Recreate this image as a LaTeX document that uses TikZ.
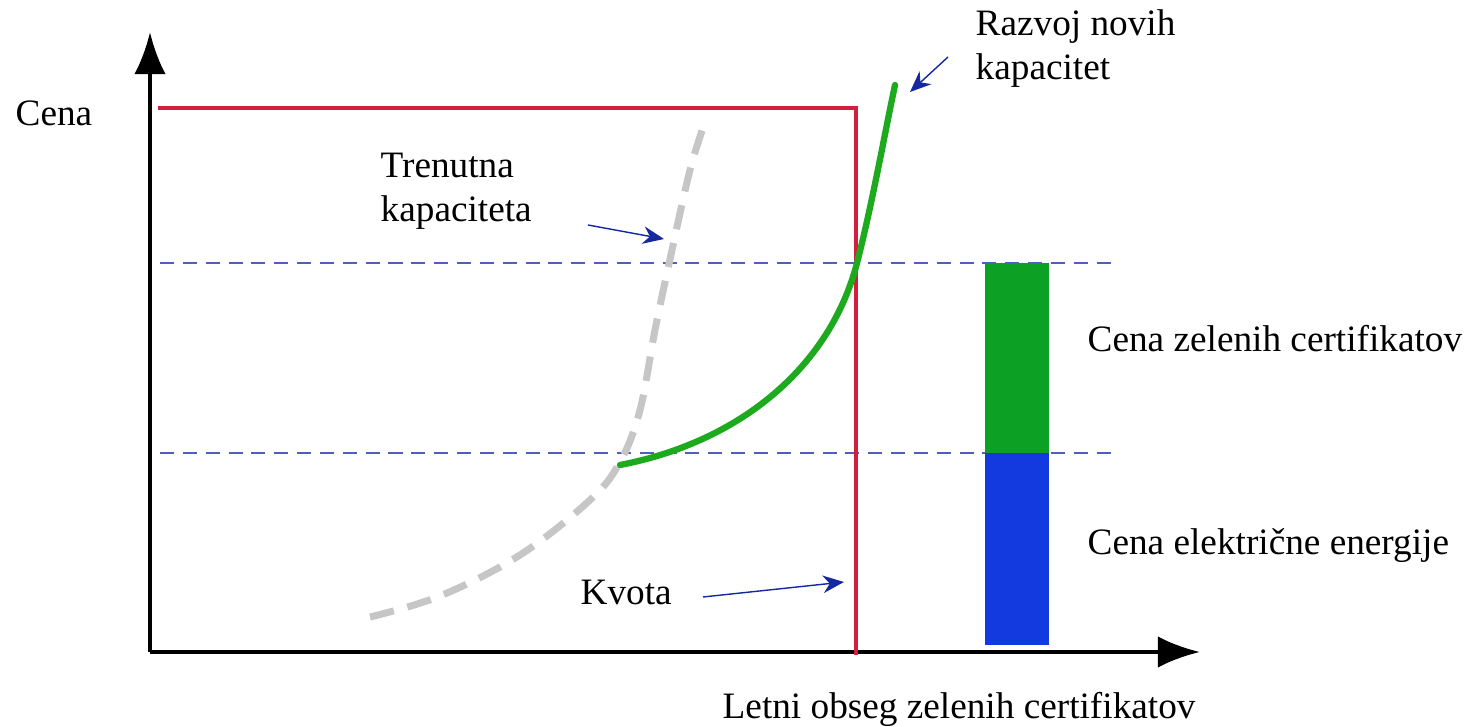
\documentclass[tikz,border=0pt]{standalone}
\usepackage{fontspec}
\setmainfont{Liberation Serif}
\usepackage{xcolor}
\usetikzlibrary{arrows.meta, calc}

\definecolor{kvotared}{RGB}{212,30,62}
\definecolor{curvegreen}{RGB}{30,170,30}
\definecolor{bargreen}{RGB}{12,160,36}
\definecolor{barblue}{RGB}{18,58,222}
\definecolor{levelblue}{RGB}{80,95,190}
\definecolor{pointerblue}{RGB}{20,40,160}

\tikzset{
  lbl/.style={font=\fontsize{10.6}{12.6}\selectfont, inner sep=0pt, align=left},
  pointer/.style={color=pointerblue, thin, -{Stealth[length=6pt, width=5pt]}},
  level/.style={color=levelblue, thin, dash pattern=on 4pt off 2.5pt}
}

\begin{document}
\begin{tikzpicture}
    \useasboundingbox (0, 0) rectangle (14.77, 7.27);

    % axes
    \draw[line width=1.2pt, -{Latex[length=12pt, width=9pt]}] (1.50, 0.75) -- (1.50, 6.95);
    \draw[line width=1.2pt, -{Latex[length=12pt, width=9pt]}] (1.50, 0.75) -- (12.00, 0.75);
    \node[lbl, anchor=base west] (cena) at (0.15, 6.01) {Cena};
    \node[lbl, anchor=base west] (obseg) at (7.22, 0.08) {Letni obseg zelenih certifikatov};

    % price levels
    \draw[level] (1.60, 4.64) -- (11.15, 4.64);
    \draw[level] (1.60, 2.74) -- (11.15, 2.74);

    % quota
    \draw[color=kvotared, line width=1pt] (1.58, 6.19) -- (8.56, 6.19) -- (8.56, 0.72);

    % current capacity
    \draw[color=gray!45, line width=2pt, dash pattern=on 7pt off 4pt]
        plot[smooth, tension=0.6] coordinates {(3.70, 1.10) (4.40, 1.31) (5.20, 1.72) (5.90, 2.27) (6.20, 2.65)
        (6.40, 3.17) (6.55, 3.97) (6.72, 4.77) (6.90, 5.57) (7.05, 6.05)};

    % new capacity
    \draw[color=curvegreen, line width=1.8pt, line cap=round]
        (6.20, 2.62) .. controls (7.40, 2.85) and (8.30, 3.60) .. (8.57, 4.64)
        .. controls (8.72, 5.22) and (8.85, 5.95) .. (8.95, 6.42);

    % price bar
    \fill[color=bargreen] (9.85, 2.74) rectangle (10.49, 4.64);
    \fill[color=barblue] (9.85, 0.82) rectangle (10.49, 2.74);
    \node[lbl, anchor=base west] (zeleni) at (10.87, 3.75) {Cena zelenih certifikatov};
    \node[lbl, anchor=base west] (elektrika) at (10.87, 1.72) {Cena električne energije};

    % labels with pointers
    \node[lbl, anchor=base west] (trenutna) at (3.80, 5.05) {Trenutna\\kapaciteta};
    \node[lbl, anchor=base west] (razvoj) at (9.75, 6.47) {Razvoj novih\\kapacitet};
    \node[lbl, anchor=base west] (kvota) at (5.80, 1.22) {Kvota};

    \coordinate (trenutnaS) at (5.88, 5.02);
    \coordinate (trenutnaE) at (6.64, 4.88);
    \coordinate (razvojS) at (9.48, 6.70);
    \coordinate (razvojE) at (9.10, 6.35);
    \coordinate (kvotaS) at (7.03, 1.30);
    \coordinate (kvotaE) at (8.44, 1.45);
    \draw[pointer] (trenutnaS) -- (trenutnaE);
    \draw[pointer] (razvojS) -- (razvojE);
    \draw[pointer] (kvotaS) -- (kvotaE);
  \end{tikzpicture}
\end{document}
